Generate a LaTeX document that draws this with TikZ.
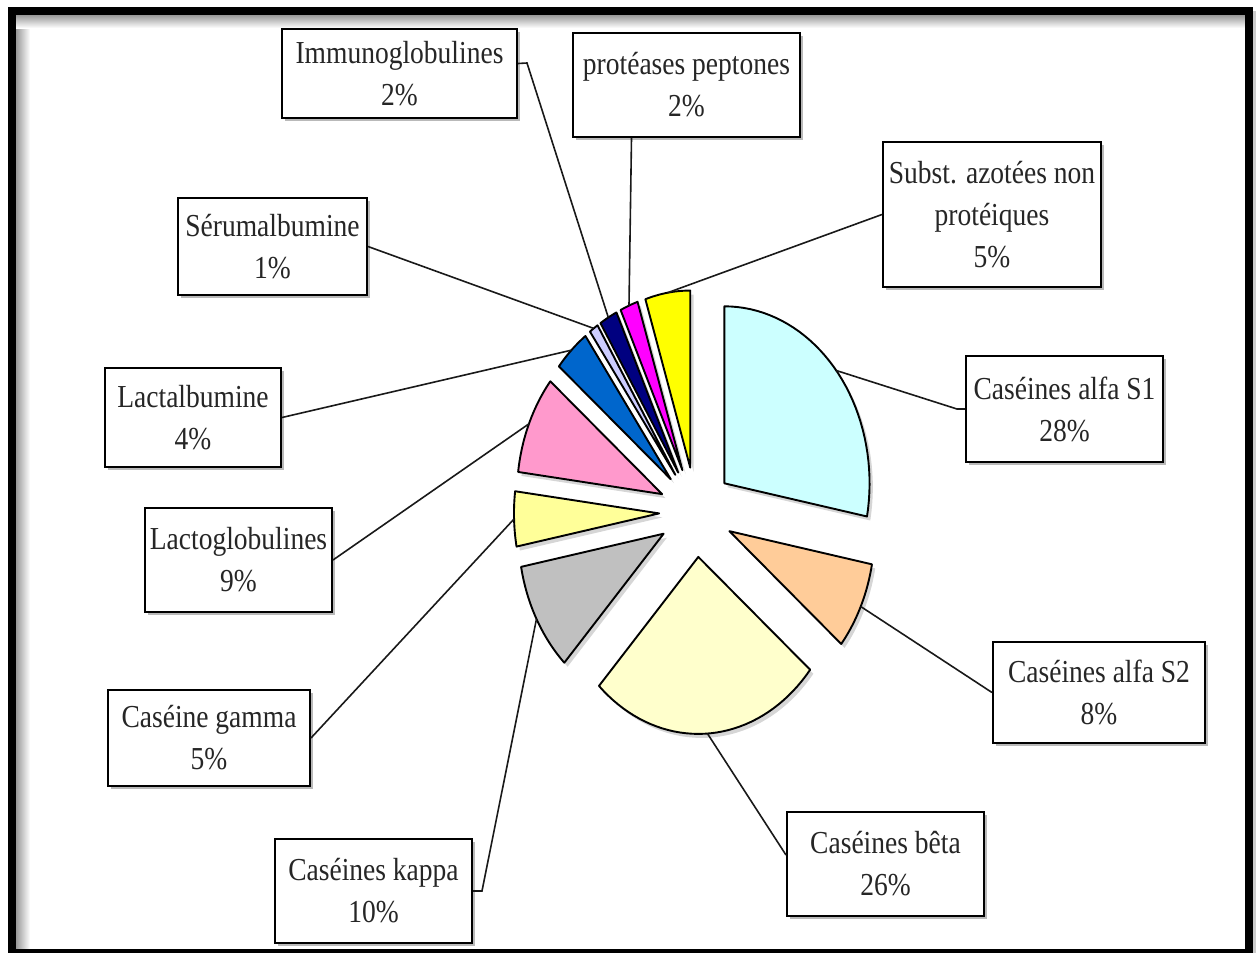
\documentclass[tikz,border=0pt]{standalone}
\usepackage{fontspec}
\setmainfont{Liberation Serif}
\newfontfamily\lblfont[FakeStretch=0.86]{Liberation Serif}
\usetikzlibrary{shadows,calc}

% slice colours
\definecolor{cSa}{HTML}{CCFFFF}
\definecolor{cSb}{HTML}{FFCC99}
\definecolor{cBe}{HTML}{FFFFCC}
\definecolor{cKa}{HTML}{C0C0C0}
\definecolor{cGa}{HTML}{FFFF99}
\definecolor{cLg}{HTML}{FF99CC}
\definecolor{cLa}{HTML}{0066CC}
\definecolor{cSe}{HTML}{CCCCFF}
\definecolor{cIm}{HTML}{000080}
\definecolor{cPr}{HTML}{FF00FF}
\definecolor{cSu}{HTML}{FFFF00}

\tikzset{
  slicefill/.style={draw=black, line width=1.9pt, line join=round},
  sliceshade/.style={fill=black, opacity=0.16},
  lbl/.style={draw=black, line width=2pt, fill=white, align=center,
    font=\lblfont\fontsize{32}{42}\selectfont, text=black!85, inner sep=0pt,
    drop shadow={shadow xshift=3pt, shadow yshift=-3pt, opacity=0.55}},
  leader/.style={draw=black!90, line width=1.6pt},
}

\begin{document}
\begin{tikzpicture}[x=1pt, y=-1pt]
\useasboundingbox (0,0) rectangle (1256,953);
\fill[white] (0,0) rectangle (1256,953);

% inner shading along the frame
\shade[left color=black!40, right color=white] (16,28) rectangle (30,953);
\shade[top color=black!40, bottom color=white] (16,15) rectangle (1245,28);
\fill[black!20] (1253,11) rectangle (1256,953);
% outer frame
\draw[line width=8pt] (12,11) rectangle (1249,953);

% exploded pie (circle stretched horizontally)
\begin{scope}[shift={(696,512)}, x={(0.82pt,0pt)}, y={(0pt,1pt)}]
  \foreach \a/\b in {90/-10.8, -10.8/-39.6, -39.6/-133.2, -133.2/-169.2,
      -169.2/-187.2, -187.2/-219.6, -219.6/-234, -234/-237.6,
      -237.6/-244.8, -244.8/-252, -252/-270} {
    \pgfmathsetmacro\m{(\a+\b)/2}
    \fill[sliceshade, shift={({45*cos(\m)+4},{45*sin(\m)-4})}]
      (0,0) -- plot[domain=\b:\a, samples=40] ({177*cos(\x)},{177*sin(\x)}) -- cycle;
  }
  \foreach \a/\b/\c in {90/-10.8/cSa, -10.8/-39.6/cSb, -39.6/-133.2/cBe,
      -133.2/-169.2/cKa, -169.2/-187.2/cGa, -187.2/-219.6/cLg,
      -219.6/-234/cLa, -234/-237.6/cSe, -237.6/-244.8/cIm,
      -244.8/-252/cPr, -252/-270/cSu} {
    \pgfmathsetmacro\m{(\a+\b)/2}
    \filldraw[slicefill, fill=\c, shift={({45*cos(\m)},{45*sin(\m)})}]
      (0,0) -- plot[domain=\b:\a, samples=40] ({177*cos(\x)},{177*sin(\x)}) -- cycle;
  }
  % leader anchor points on the outer arcs
  \coordinate (p-sa) at ({222*cos(39.6)},{222*sin(39.6)});
  \coordinate (p-sb) at ({222*cos(-25.2)},{222*sin(-25.2)});
  \coordinate (p-be) at ({222*cos(-86.4)},{222*sin(-86.4)});
  \coordinate (p-ka) at ({222*cos(-151.2)},{222*sin(-151.2)});
  \coordinate (p-ga) at ({222*cos(-178.2)},{222*sin(-178.2)});
  \coordinate (p-lg) at ({222*cos(-203.4)},{222*sin(-203.4)});
  \coordinate (p-la) at ({222*cos(-226.8)},{222*sin(-226.8)});
  \coordinate (p-se) at ({222*cos(-235.8)},{222*sin(-235.8)});
  \coordinate (p-im) at ({222*cos(-241.2)},{222*sin(-241.2)});
  \coordinate (p-pr) at ({222*cos(-248.4)},{222*sin(-248.4)});
  \coordinate (p-su) at ({222*cos(-261)},{222*sin(-261)});
\end{scope}

% labels
\node[lbl, minimum width=235pt, minimum height=89pt]  (im) at (399.5,73.5) {Immunoglobulines\\2\%};
\node[lbl, minimum width=227pt, minimum height=104pt] (pr) at (686.5,85) {protéases peptones\\2\%};
\node[lbl, minimum width=218pt, minimum height=145pt] (su) at (992,214.5) {Subst. azotées non\\protéiques\\5\%};
\node[lbl, minimum width=189pt, minimum height=97pt]  (se) at (272.5,246.5) {Sérumalbumine\\1\%};
\node[lbl, minimum width=176pt, minimum height=99pt]  (la) at (193,417.5) {Lactalbumine\\4\%};
\node[lbl, minimum width=197pt, minimum height=106pt] (sa) at (1064.5,409) {Caséines alfa S1\\28\%};
\node[lbl, minimum width=187pt, minimum height=104pt] (lg) at (238.5,560) {Lactoglobulines\\9\%};
\node[lbl, minimum width=202pt, minimum height=96pt]  (ga) at (209,738) {Caséine gamma\\5\%};
\node[lbl, minimum width=212pt, minimum height=101pt] (sb) at (1099,692.5) {Caséines alfa S2\\8\%};
\node[lbl, minimum width=197pt, minimum height=104pt] (be) at (885.5,864) {Caséines bêta\\26\%};
\node[lbl, minimum width=197pt, minimum height=104pt] (ka) at (373.5,891) {Caséines kappa\\10\%};

% leader lines
\coordinate (e-im) at (527,63);
\coordinate (e-sa) at (957,409);
\coordinate (e-ka) at (482,891);
\draw[leader] ([yshift=10pt]im.east) -- (e-im) -- (p-im);
\draw[leader] ([xshift=-55pt]pr.south) -- (p-pr);
\draw[leader] (su.west) -- (p-su);
\draw[leader] (se.east) -- (p-se);
\draw[leader] (la.east) -- (p-la);
\draw[leader] (sa.west) -- (e-sa) -- (p-sa);
\draw[leader] (lg.east) -- (p-lg);
\draw[leader] (ga.east) -- (p-ga);
\draw[leader] (sb.west) -- (p-sb);
\draw[leader] ([yshift=9pt]be.west) -- (p-be);
\draw[leader] (ka.east) -- (e-ka) -- (p-ka);
\end{tikzpicture}
\end{document}
